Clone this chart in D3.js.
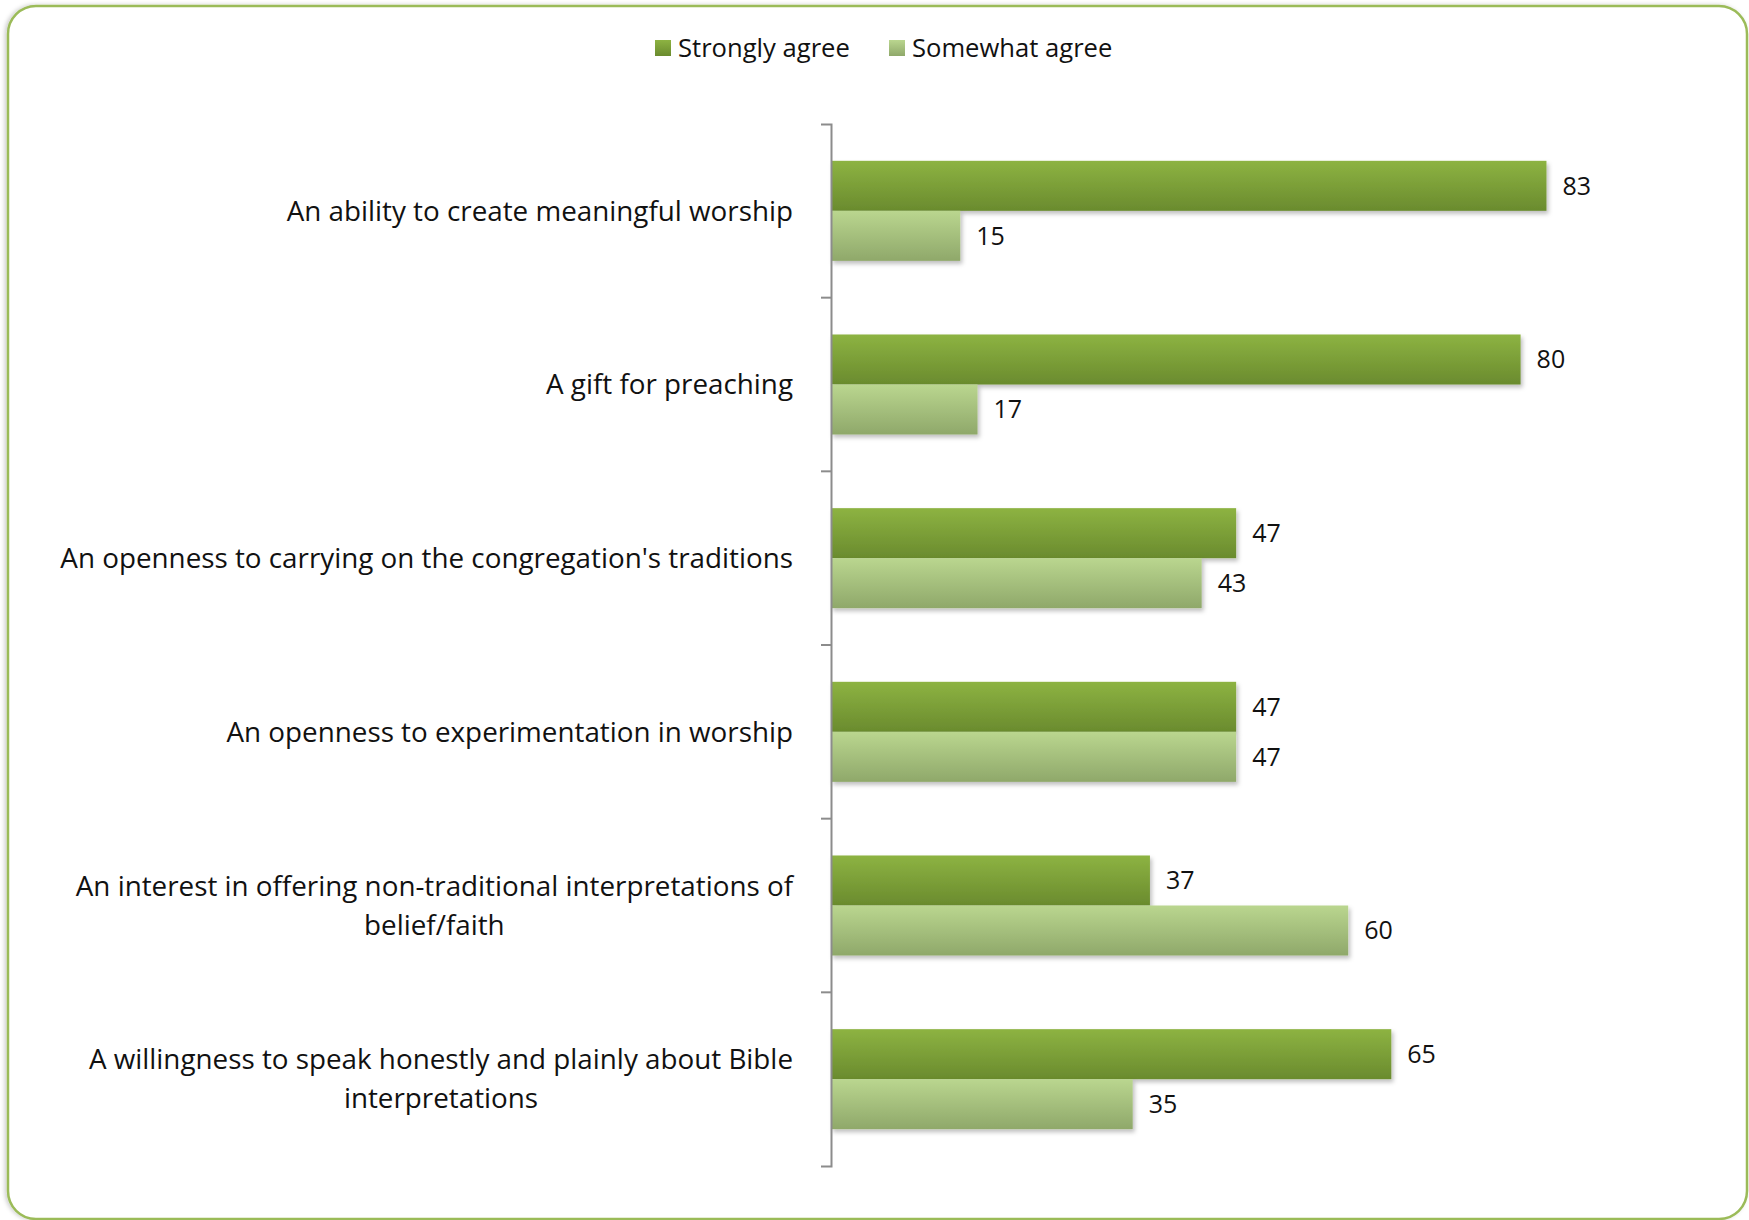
<!DOCTYPE html>
<html>
<head>
<meta charset="utf-8">
<script src="https://cdn.jsdelivr.net/npm/d3@7"></script>
<style>
  body { margin: 0; background: #fff; }
  text { font-family: "Open Sans", sans-serif; fill: #111; }
</style>
</head>
<body>
<div id="chart"></div>
<script>
const categories = [
    "An ability to create meaningful worship",
    "A gift for preaching",
    "An openness to carrying on the congregation's traditions",
    "An openness to experimentation in worship",
    "An interest in offering non-traditional interpretations of belief/faith",
    "A willingness to speak honestly and plainly about Bible interpretations"
];
const seriesNames = ["Strongly agree", "Somewhat agree"];
const stronglyAgree = [83, 80, 47, 47, 37, 65];
const somewhatAgree = [15, 17, 43, 47, 60, 35];

const W = 1749, H = 1220;
const margin = { top: 124, left: 831, bottom: 54 };
const labelSize = 27.8;
const valueSize = 25;
const legendSize = 25.6;

const svg = d3.select("#chart")
    .append("svg")
    .attr("width", W)
    .attr("height", H);

const defs = svg.append("defs");
const gradients = [
    { id: "g0", top: "#8db342", bottom: "#6a8b2e" },
    { id: "g1", top: "#bad68f", bottom: "#8fa86a" }
];
gradients.forEach(g => {
    const lg = defs.append("linearGradient")
        .attr("id", g.id)
        .attr("x1", 0).attr("y1", 0).attr("x2", 0).attr("y2", 1);
    lg.append("stop").attr("offset", "0%").attr("stop-color", g.top);
    lg.append("stop").attr("offset", "100%").attr("stop-color", g.bottom);
});
const shadow = defs.append("filter").attr("id", "shadow")
    .attr("x", "-5%").attr("y", "-20%").attr("width", "110%").attr("height", "160%");
shadow.append("feDropShadow")
    .attr("dx", 2).attr("dy", 3).attr("stdDeviation", 2)
    .attr("flood-color", "#000").attr("flood-opacity", 0.25);
const frameShadow = defs.append("filter").attr("id", "frameShadow")
    .attr("x", "-2%").attr("y", "-2%").attr("width", "104%").attr("height", "104%");
frameShadow.append("feDropShadow")
    .attr("dx", -2).attr("dy", 0).attr("stdDeviation", 2)
    .attr("flood-color", "#000").attr("flood-opacity", 0.2);

// frame
svg.append("rect")
    .attr("x", 8).attr("y", 6)
    .attr("width", 1739).attr("height", 1213)
    .attr("rx", 28).attr("ry", 28)
    .attr("fill", "#fff")
    .attr("stroke", "#9bbb59")
    .attr("stroke-width", 2.5)
    .attr("filter", "url(#frameShadow)");

const y = d3.scaleBand()
    .domain(categories)
    .range([margin.top, H - margin.bottom])
    .paddingInner(0.424)
    .paddingOuter(0.212);

const yBand = d3.scaleBand()
    .domain(categories)
    .range([margin.top, H - margin.bottom]);

const x = d3.scaleLinear()
    .domain([0, 100])
    .range([margin.left, margin.left + 862]);

const sub = d3.scaleBand()
    .domain([0, 1])
    .range([0, y.bandwidth()]);

const data = categories.flatMap((c, i) => [
    { cat: c, s: 0, value: stronglyAgree[i] },
    { cat: c, s: 1, value: somewhatAgree[i] }
]);

svg.append("g")
    .selectAll("rect")
    .data(data)
    .join("rect")
    .attr("x", x(0))
    .attr("y", d => y(d.cat) + sub(d.s))
    .attr("width", d => x(d.value) - x(0))
    .attr("height", sub.bandwidth())
    .attr("fill", d => `url(#g${d.s})`)
    .attr("filter", "url(#shadow)");

svg.append("g")
    .selectAll("text")
    .data(data)
    .join("text")
    .attr("x", d => x(d.value) + 16)
    .attr("y", d => y(d.cat) + sub(d.s) + sub.bandwidth() / 2)
    .attr("dy", "0.35em")
    .style("font-size", valueSize + "px")
    .text(d => d.value);

// axis: outer hooks from axis, inner ticks at band boundaries
const axis = svg.append("g")
    .attr("transform", `translate(${margin.left}, 0)`)
    .call(d3.axisLeft(yBand).tickSize(0).tickSizeOuter(10).tickFormat(""));
axis.select(".domain").attr("stroke", "#8c8c8c").attr("stroke-width", 2);
axis.selectAll(".tick").remove();
axis.selectAll("line.sep")
    .data(categories.slice(1))
    .join("line")
    .attr("class", "sep")
    .attr("x1", -10).attr("x2", 0)
    .attr("y1", d => yBand(d)).attr("y2", d => yBand(d))
    .attr("stroke", "#8c8c8c").attr("stroke-width", 2);

// category labels, wrapped and centered within a right-aligned block
const labelRight = 793;
const maxWidth = 765;
const lineHeight = 39;
const measure = svg.append("text").style("font-size", labelSize + "px");
const textWidth = s => { measure.text(s); return measure.node().getComputedTextLength(); };

categories.forEach(c => {
    const words = c.split(" ");
    const lines = [];
    let line = "";
    words.forEach(w => {
        const t = line ? line + " " + w : w;
        if (textWidth(t) > maxWidth && line) { lines.push(line); line = w; }
        else line = t;
    });
    lines.push(line);
    const blockW = d3.max(lines, l => textWidth(l));
    const cx = labelRight - blockW / 2;
    const cy = yBand(c) + yBand.bandwidth() / 2;
    const t = svg.append("text")
        .attr("text-anchor", "middle")
        .style("font-size", labelSize + "px");
    lines.forEach((l, i) => {
        t.append("tspan")
            .attr("x", cx)
            .attr("y", cy + (i - (lines.length - 1) / 2) * lineHeight)
            .attr("dy", "0.35em")
            .text(l);
    });
});
measure.remove();

// legend
const legendX = [655, 889];
const legend = svg.append("g")
    .selectAll("g")
    .data(seriesNames)
    .join("g")
    .attr("transform", (d, i) => `translate(${legendX[i]}, 48)`);
legend.append("rect")
    .attr("x", 0).attr("y", -8)
    .attr("width", 16).attr("height", 16)
    .attr("fill", (d, i) => `url(#g${i})`);
legend.append("text")
    .attr("x", 23)
    .attr("dy", "0.35em")
    .style("font-size", legendSize + "px")
    .text(d => d);
</script>
</body>
</html>
